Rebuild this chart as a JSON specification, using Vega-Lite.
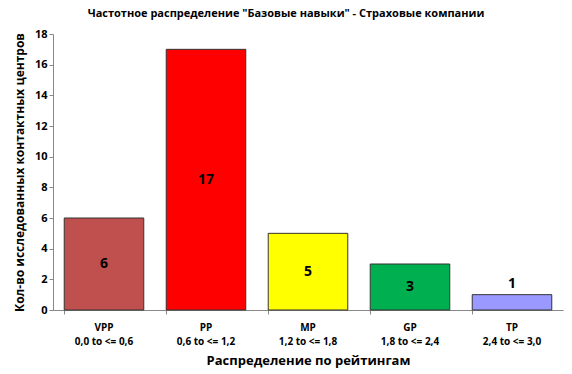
{
  "$schema": "https://vega.github.io/schema/vega-lite/v6.json",
  "width": 510,
  "height": 276,
  "autosize": {"type": "none"},
  "padding": {"left": 53, "top": 34, "right": 9, "bottom": 64},
  "background": "white",
  "config": {
    "font": "Open Sans",
    "view": {"stroke": null},
    "axisY": {
      "titleFontSize": 12,
      "titleFontWeight": "bold",
      "titleColor": "#000000",
      "titlePadding": 8,
      "tickCount": 9,
      "labelOverlap": false,
      "labelFlush": false,
      "labelFontSize": 11,
      "labelFontWeight": "bold",
      "labelColor": "#000000",
      "grid": false,
      "tickSize": 4,
      "tickColor": "#888888",
      "domainColor": "#888888"
    }
  },
  "title": {
    "text": "Частотное распределение \"Базовые навыки\" - Страховые компании",
    "fontSize": 11,
    "fontWeight": "bold",
    "color": "#000000",
    "anchor": "middle",
    "dx": -22,
    "offset": 9
  },
  "data": {
    "values": [
      {"cat": "VPP|0,0 to <= 0,6", "n": 6, "color": "VPP"},
      {"cat": "PP|0,6 to <= 1,2", "n": 17, "color": "PP"},
      {"cat": "MP|1,2 to <= 1,8", "n": 5, "color": "MP"},
      {"cat": "GP|1,8 to <= 2,4", "n": 3, "color": "GP"},
      {"cat": "TP|2,4 to <= 3,0", "n": 1, "color": "TP"}
    ]
  },
  "encoding": {
    "x": {
      "field": "cat",
      "type": "nominal",
      "sort": null,
      "scale": {"paddingInner": 0.22, "paddingOuter": 0.11},
      "axis": {
        "title": "Распределение по рейтингам",
        "titleFontSize": 13,
        "titleFontWeight": "bold",
        "titleColor": "#000000",
        "titlePadding": 8,
        "labelAngle": 0,
        "labelExpr": "split(datum.label, '|')",
        "labelFontSize": 10,
        "labelFontWeight": "bold",
        "labelColor": "#000000",
        "labelPadding": 8,
        "labelLineHeight": 14,
        "bandPosition": 0,
        "tickSize": 4,
        "tickColor": "#888888",
        "domainColor": "#888888"
      }
    }
  },
  "layer": [
    {
      "mark": {"type": "bar", "stroke": "#333333", "strokeWidth": 1},
      "encoding": {
        "y": {
          "field": "n",
          "type": "quantitative",
          "scale": {"domain": [0, 18]},
          "title": "Кол-во исследованных контактных центров"
        },
        "color": {
          "field": "color",
          "type": "nominal",
          "scale": {
            "domain": ["VPP", "PP", "MP", "GP", "TP"],
            "range": ["#C0504D", "#FF0000", "#FFFF00", "#00B050", "#9999FF"]
          },
          "legend": null
        }
      }
    },
    {
      "transform": [
        {"filter": "datum.n >= 2"},
        {"calculate": "datum.n / 2", "as": "mid"}
      ],
      "mark": {"type": "text", "fontSize": 14, "fontWeight": "bold", "color": "#000000", "baseline": "middle"},
      "encoding": {
        "y": {"field": "mid", "type": "quantitative", "title": "Кол-во исследованных контактных центров"},
        "text": {"field": "n", "type": "quantitative"}
      }
    },
    {
      "transform": [{"filter": "datum.n < 2"}],
      "mark": {"type": "text", "fontSize": 14, "fontWeight": "bold", "color": "#000000", "baseline": "bottom", "dy": -4},
      "encoding": {
        "y": {"field": "n", "type": "quantitative", "title": "Кол-во исследованных контактных центров"},
        "text": {"field": "n", "type": "quantitative"}
      }
    }
  ]
}
